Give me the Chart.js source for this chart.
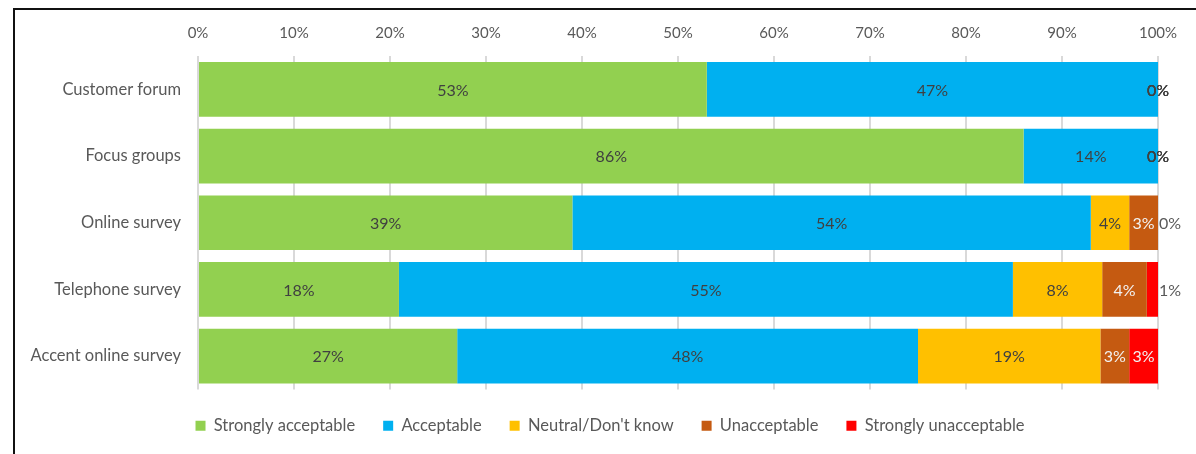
<!DOCTYPE html>
<html>
<head>
<meta charset="utf-8">
<script src="https://cdn.jsdelivr.net/npm/chart.js@4"></script>
<style>
  html, body { margin: 0; padding: 0; background: #fff; }
  body { width: 1196px; height: 454px; overflow: hidden; position: relative; }
  #frame { position: absolute; left: 13px; top: 8px; width: 1300px; height: 600px; border-left: 2px solid #111; border-top: 2px solid #111; }
  #wrap { position: absolute; left: 0; top: 0; width: 1196px; height: 454px; }
</style>
</head>
<body>
<div id="frame"></div>
<div id="wrap"><canvas id="chart" width="1196" height="454"></canvas></div>
<script>
const categories = ["Customer forum", "Focus groups", "Online survey", "Telephone survey", "Accent online survey"];
const seriesNames = ["Strongly acceptable", "Acceptable", "Neutral/Don't know", "Unacceptable", "Strongly unacceptable"];
const stronglyAcceptable = [53, 86, 39, 18, 27];
const acceptable = [47, 14, 54, 55, 48];
const neutral = [0, 0, 4, 8, 19];
const unacceptable = [0, 0, 3, 4, 3];
const stronglyUnacceptable = [0, 0, 0, 1, 3];
const xTicks = [0, 10, 20, 30, 40, 50, 60, 70, 80, 90, 100];

const FONT = "Lato, 'Liberation Sans', sans-serif";
const colors = ["#92D050", "#00B0F0", "#FFC000", "#C55A11", "#FF0000"];
const labelColors = ["#404040", "#404040", "#404040", "#F2F2F2", "#F2F2F2"];

const rows = [stronglyAcceptable, acceptable, neutral, unacceptable, stronglyUnacceptable];
// 100% stacked: each row is scaled to its own total
const totals = categories.map((_, j) => rows.reduce((s, r) => s + r[j], 0));

const datasets = rows.map((r, i) => ({
  label: seriesNames[i],
  data: r.map((v, j) => (v / totals[j]) * 100),
  raw: r,
  backgroundColor: colors[i],
  borderWidth: 0,
  labelColor: labelColors[i],
}));

// value labels inside the segments
const barLabels = {
  id: "barLabels",
  afterDatasetsDraw(chart) {
    const { ctx } = chart;
    const last = chart.data.datasets.length - 1;
    ctx.save();
    ctx.font = "16px " + FONT;
    ctx.textBaseline = "middle";
    chart.data.datasets.forEach((ds, i) => {
      chart.getDatasetMeta(i).data.forEach((bar, j) => {
        const w = Math.abs(bar.x - bar.base);
        let x = (bar.x + bar.base) / 2;
        ctx.textAlign = "center";
        ctx.fillStyle = w > 20 ? ds.labelColor : "#404040";
        // the last segment goes outside when there is something before it to collide with
        const before = rows.slice(2, i).reduce((s, r) => s + r[j], 0);
        if (i === last && w < 12 && before > 0) {
          x = bar.x + 1;
          ctx.textAlign = "left";
          ctx.fillStyle = "#595959";
        }
        ctx.fillText(ds.raw[j] + "%", x, bar.y + 1);
      });
    });
    ctx.restore();
  },
};

// centre the legend row under the bars rather than the whole canvas
const legendShift = {
  id: "legendShift",
  afterLayout(chart) {
    chart.legend.left += 31;
    chart.legend.right += 31;
  },
};

const ctx = document.getElementById("chart").getContext("2d");
new Chart(ctx, {
  type: "bar",
  data: { labels: categories, datasets },
  options: {
    indexAxis: "y",
    responsive: false,
    animation: false,
    layout: { padding: { left: 0, right: 38, top: 0, bottom: 10 } },
    scales: {
      x: {
        position: "top",
        stacked: true,
        min: 0,
        max: 100,
        afterFit: (scale) => { scale.height = 56; },
        afterBuildTicks: (scale) => { scale.ticks = xTicks.map((v) => ({ value: v })); },
        border: { display: false },
        grid: { color: "#D9D9D9", lineWidth: 2, drawTicks: false },
        ticks: {
          padding: 14,
          color: "#595959",
          font: { size: 15, family: FONT },
          callback: (v) => v + "%",
        },
      },
      y: {
        stacked: true,
        afterFit: (scale) => { scale.width = 198; },
        border: { display: false },
        grid: { display: false, drawTicks: false },
        ticks: {
          padding: 17,
          color: "#595959",
          font: { size: 16.5, family: FONT },
        },
      },
    },
    datasets: { bar: { categoryPercentage: 1, barPercentage: 0.82 } },
    plugins: {
      tooltip: { enabled: false },
      legend: {
        position: "bottom",
        labels: {
          boxWidth: 10,
          boxHeight: 10,
          padding: 28,
          color: "#595959",
          font: { size: 16.5, family: FONT },
        },
      },
    },
  },
  plugins: [barLabels, legendShift],
});
</script>
</body>
</html>
